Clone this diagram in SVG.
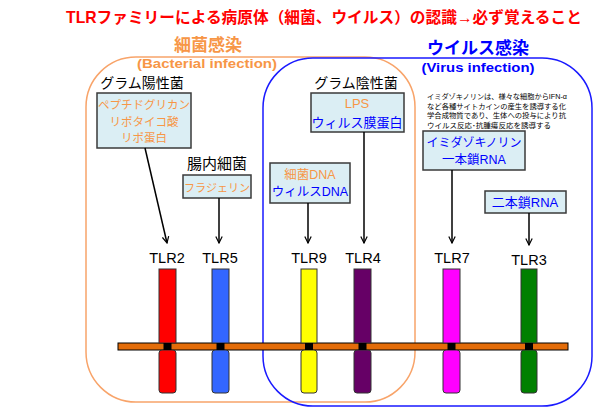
<svg xmlns="http://www.w3.org/2000/svg" width="610" height="410" viewBox="0 0 610 410">
<defs>
<style>
text{font-family:"Liberation Sans","Noto Sans CJK JP",sans-serif;}
.t{text-anchor:middle;}
.or{fill:#f79646;}
.bl{fill:#0000ff;}
.bk{fill:#000;}
.box{fill:#dbeef4;stroke:#3a3a3a;stroke-width:1.5;}
.con{stroke:#000;stroke-width:1.5;fill:none;marker-end:url(#arr);}
.bar{stroke:#333;stroke-width:1;}
.sq{fill:#000;}
.lbl{font-size:14.5px;}
</style>
<marker id="arr" viewBox="0 0 10 10" refX="9" refY="5" markerWidth="8" markerHeight="8" orient="auto" markerUnits="userSpaceOnUse">
<path d="M1,1 L9,5 L1,9" fill="none" stroke="#000" stroke-width="1.5"/>
</marker>
</defs>
<rect width="610" height="410" fill="#fff"/>

<text id="title" x="324" y="23" class="t" font-size="15.7" font-weight="bold" fill="#ff0000">TLRファミリーによる病原体（細菌、ウイルス）の認識→必ず覚えること</text>

<g id="bacteria-region">
<rect x="86" y="57" width="329" height="345" rx="50" ry="50" fill="none" stroke="#f8a46a" stroke-width="1.5"/>
<text x="208" y="51" class="t or" font-size="17" font-weight="bold">細菌感染</text>
<text x="207" y="68" class="t or" font-size="13" font-weight="bold" textLength="140" lengthAdjust="spacingAndGlyphs">(Bacterial infection)</text>
</g>

<g id="virus-region">
<rect x="263" y="58" width="329" height="348" rx="50" ry="50" fill="none" stroke="#1a1aff" stroke-width="1.5"/>
<text x="478" y="54" class="t bl" font-size="17" font-weight="bold">ウイルス感染</text>
<text x="478" y="72" class="t bl" font-size="13" font-weight="bold" textLength="113" lengthAdjust="spacingAndGlyphs">(Virus infection)</text>
</g>

<g id="membrane">
<rect x="118" y="343" width="450" height="7" fill="#e36c09" stroke="#000" stroke-width="1"/>
</g>

<g id="gram-positive">
<text x="142" y="88" class="t bk" font-size="14">グラム陽性菌</text>
<rect class="box" x="97" y="93" width="94" height="55"/>
<text x="144" y="109" class="t or" font-size="11.5">ペプチドグリカン</text>
<text x="144" y="126" class="t or" font-size="11.5">リポタイコ酸</text>
<text x="144" y="142" class="t or" font-size="11.5">リポ蛋白</text>
</g>

<g id="gut-bacteria">
<text x="217" y="169" class="t bk" font-size="15">腸内細菌</text>
<rect class="box" x="183" y="175" width="68" height="23"/>
<text x="217" y="192" class="t or" font-size="11">フラジェリン</text>
</g>

<g id="dna">
<rect class="box" x="270" y="163" width="80" height="40"/>
<text x="310" y="179" class="t or" font-size="12.5">細菌DNA</text>
<text x="310" y="196" class="t bl" font-size="12.5">ウィルスDNA</text>
</g>

<g id="gram-negative">
<text x="356" y="88" class="t bk" font-size="14">グラム陰性菌</text>
<rect class="box" x="311" y="93" width="93" height="39"/>
<text x="357" y="108" class="t or" font-size="13">LPS</text>
<text x="357" y="127" class="t bl" font-size="13">ウィルス膜蛋白</text>
</g>

<g id="note">
<text x="427" y="99" class="bk" font-size="7.3" textLength="140" lengthAdjust="spacingAndGlyphs">イミダゾキノリンは、様々な細胞からIFN-α</text>
<text x="427" y="108.5" class="bk" font-size="7.3" textLength="139" lengthAdjust="spacingAndGlyphs">など各種サイトカインの産生を誘導する化</text>
<text x="427" y="118" class="bk" font-size="7.3" textLength="139" lengthAdjust="spacingAndGlyphs">学合成物質であり、生体への投与により抗</text>
<text x="427" y="127.5" class="bk" font-size="7.3" textLength="124" lengthAdjust="spacingAndGlyphs">ウイルス反応･抗腫瘍反応を誘導する</text>
</g>

<g id="imidazoquinoline">
<rect class="box" x="423" y="131" width="102" height="39"/>
<text x="474" y="147" class="t bl" font-size="12">イミダゾキノリン</text>
<text x="474" y="164" class="t bl" font-size="12.5">一本鎖RNA</text>
</g>

<g id="dsrna">
<rect class="box" x="485" y="191" width="81" height="22"/>
<text x="525" y="207" class="t bl" font-size="13">二本鎖RNA</text>
</g>

<g id="connectors">
<line class="con" x1="145" y1="148" x2="167" y2="243"/>
<line class="con" x1="219" y1="198" x2="219" y2="243"/>
<line class="con" x1="308" y1="203" x2="308" y2="243"/>
<line class="con" x1="364" y1="132" x2="364" y2="243"/>
<line class="con" x1="452" y1="170" x2="452" y2="243"/>
<line class="con" x1="529" y1="213" x2="529" y2="245"/>
</g>

<g id="tlr2">
<text x="167" y="263" class="t bk lbl">TLR2</text>
<rect class="bar" x="159" y="269" width="17" height="74" fill="#ff0000"/>
<rect class="bar" x="159" y="350" width="17" height="43" rx="3" fill="#ff0000"/>
<rect class="sq" x="163.5" y="343" width="8" height="7"/>
</g>
<g id="tlr5">
<text x="220" y="263" class="t bk lbl">TLR5</text>
<rect class="bar" x="212" y="269" width="17" height="74" fill="#3366ff"/>
<rect class="bar" x="212" y="350" width="17" height="43" rx="3" fill="#3366ff"/>
<rect class="sq" x="216.5" y="343" width="8" height="7"/>
</g>
<g id="tlr9">
<text x="309" y="263" class="t bk lbl">TLR9</text>
<rect class="bar" x="301" y="269" width="16" height="74" fill="#ffff00"/>
<rect class="bar" x="301" y="350" width="16" height="43" rx="3" fill="#ffff00"/>
<rect class="sq" x="305" y="343" width="8" height="7"/>
</g>
<g id="tlr4">
<text x="363" y="263" class="t bk lbl">TLR4</text>
<rect class="bar" x="354" y="269" width="17" height="74" fill="#660066"/>
<rect class="bar" x="354" y="350" width="17" height="43" rx="3" fill="#660066"/>
<rect class="sq" x="358.5" y="343" width="8" height="7"/>
</g>
<g id="tlr7">
<text x="452" y="263" class="t bk lbl">TLR7</text>
<rect class="bar" x="443" y="269" width="17" height="74" fill="#ff00ff"/>
<rect class="bar" x="443" y="350" width="17" height="43" rx="3" fill="#ff00ff"/>
<rect class="sq" x="447.5" y="343" width="8" height="7"/>
</g>
<g id="tlr3">
<text x="529" y="265" class="t bk lbl">TLR3</text>
<rect class="bar" x="521" y="269" width="16" height="74" fill="#008000"/>
<rect class="bar" x="521" y="350" width="16" height="43" rx="3" fill="#008000"/>
<rect class="sq" x="525" y="343" width="8" height="7"/>
</g>
</svg>
